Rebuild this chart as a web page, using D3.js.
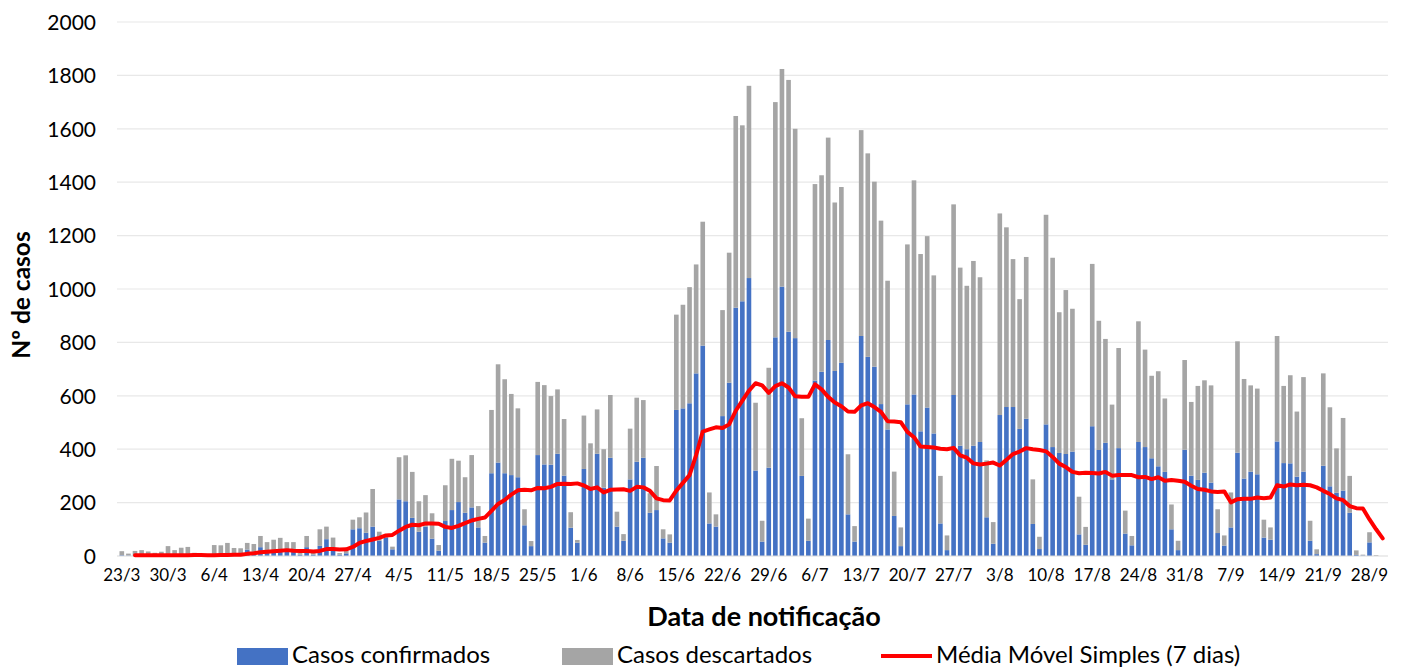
<!DOCTYPE html>
<html>
<head>
<meta charset="utf-8">
<script src="https://cdn.jsdelivr.net/npm/d3@7"></script>
<style>
  html, body { margin: 0; padding: 0; background: #ffffff; }
  svg { display: block; font-family: Lato, "Open Sans", sans-serif; }
</style>
</head>
<body>
<svg id="chart" width="1404" height="669"></svg>
<script>
// ---------------- DATA ----------------
const startDate = "2020-03-23";
const endDate = "2020-09-30";
const tickLabels = ["23/3","30/3","6/4","13/4","20/4","27/4","4/5","11/5","18/5","25/5","1/6","8/6","15/6","22/6","29/6","6/7","13/7","20/7","27/7","3/8","10/8","17/8","24/8","31/8","7/9","14/9","21/9","28/9"];
const yTicks = [0,200,400,600,800,1000,1200,1400,1600,1800,2000];
const seriesNames = ["Casos confirmados", "Casos descartados", "Média Móvel Simples (7 dias)"];

const confirmados = [3,2,3,3,2,2,3,5,3,4,5,3,2,2,5,6,8,6,8,24,15,33,20,20,20,20,15,5,33,5,38,63,20,5,10,100,104,87,110,57,70,25,212,205,143,91,110,65,20,131,172,202,162,182,107,50,310,350,310,303,295,115,37,378,343,342,383,301,106,50,326,247,383,256,368,110,57,287,353,368,162,172,66,50,547,553,572,684,788,122,110,524,649,930,954,1041,320,54,331,819,1009,840,816,300,57,657,690,809,693,724,156,54,824,746,709,569,474,150,37,568,605,467,556,459,122,22,603,413,400,413,427,145,46,528,558,558,476,514,120,26,493,408,386,382,391,81,42,486,397,424,287,404,84,40,427,408,366,336,315,100,22,398,301,285,312,275,86,39,107,387,290,316,306,69,61,429,348,347,297,316,57,7,338,261,237,245,162,4,2,51,0,0];

const descartados = [15,7,16,19,15,10,13,32,19,27,29,9,3,3,36,34,41,24,21,25,30,42,32,41,48,32,37,6,42,10,62,47,49,6,11,36,41,76,141,34,5,10,158,172,172,114,118,95,21,134,192,155,133,196,80,25,237,368,352,304,258,60,19,274,297,257,241,212,58,10,200,175,166,144,235,56,25,190,240,216,73,165,34,31,357,388,435,408,464,116,46,397,487,718,659,720,254,78,374,881,815,943,784,216,83,736,736,758,631,658,225,58,771,762,693,687,557,166,70,599,802,664,642,592,178,55,714,667,612,692,617,213,81,755,673,554,486,606,167,46,785,709,527,614,535,141,67,608,484,389,280,375,86,35,452,365,309,356,275,93,35,336,276,352,346,364,89,38,131,417,373,323,321,67,46,395,289,330,244,354,75,18,346,296,166,272,138,17,3,38,3,0];

// moving average line (starts on the 3rd day)
const mediaMovel = [null,null,3,3,3,3,3,3,3,3,3,4,4,3,3,4,4,5,5,8,10,14,16,18,20,22,20,19,19,17,19,26,26,24,25,34,49,56,62,68,77,79,95,109,117,115,122,122,121,109,105,113,123,133,139,144,169,195,210,230,246,248,246,255,254,259,270,271,270,272,264,251,257,238,248,249,250,244,259,257,244,216,209,208,245,274,303,378,466,474,482,479,493,544,582,619,647,639,611,636,647,631,598,596,596,643,624,596,575,561,541,540,564,572,558,540,505,504,501,465,445,410,408,406,402,400,405,377,368,347,343,346,350,339,360,382,391,404,400,397,392,371,346,333,315,310,312,311,309,315,301,303,303,303,295,296,288,295,282,285,282,278,263,251,248,242,240,242,201,213,214,214,219,216,219,265,260,268,265,267,265,257,244,232,216,209,187,179,178,137,100,66];

// ---------------- CHART ----------------
const colors = { conf: "#4472C4", desc: "#A5A5A5", line: "#FF0000" };
const parse = d3.timeParse("%Y-%m-%d");
const days = d3.timeDay.range(parse(startDate), d3.timeDay.offset(parse(endDate), 1));
const fmt = d3.timeFormat("%-d/%-m");
const cats = days.map(fmt);

const svg = d3.select("#chart");
const margin = { left: 118.5, right: 1386, top: 22, bottom: 556 };

const x = d3.scaleBand().domain(cats).range([margin.left, margin.right]).paddingInner(0.3).paddingOuter(0.15);
const y = d3.scaleLinear().domain([0, 2000]).range([margin.bottom, margin.top]);

// gridlines
svg.append("g").selectAll("line").data(yTicks.filter(d => d > 0)).join("line")
  .attr("x1", 117).attr("x2", 1388)
  .attr("y1", d => y(d)).attr("y2", d => y(d))
  .attr("stroke", "#e8e8e8").attr("stroke-width", 1.2);

// y axis labels
const yAxis = d3.axisLeft(y).tickValues(yTicks).tickSize(0).tickPadding(0).tickFormat(d3.format("d"));
const gy = svg.append("g").attr("transform", "translate(96,0)").call(yAxis);
gy.select(".domain").remove();
gy.selectAll("text").attr("font-size", 21).attr("fill", "#000").attr("font-family", "Lato, sans-serif").attr("dy", "0.35em");

// stacked bars
const rows = cats.map((c, i) => ({ cat: c, conf: confirmados[i], desc: descartados[i] }));
const stack = d3.stack().keys(["conf", "desc"])(rows);
svg.append("g").selectAll("g").data(stack).join("g")
  .attr("fill", d => colors[d.key])
  .selectAll("rect").data(d => d).join("rect")
  .attr("x", d => x(d.data.cat))
  .attr("width", x.bandwidth())
  .attr("y", d => y(d[1]))
  .attr("height", d => Math.max(0, y(d[0]) - y(d[1])));

// baseline
svg.append("line").attr("x1", 117).attr("x2", 1388).attr("y1", y(0)).attr("y2", y(0))
  .attr("stroke", "#d9d9d9").attr("stroke-width", 1.2);

// moving average line
const line = d3.line()
  .defined(d => d.v !== null)
  .x(d => x(d.cat) + x.bandwidth() / 2)
  .y(d => y(d.v));
svg.append("path")
  .datum(cats.map((c, i) => ({ cat: c, v: mediaMovel[i] })))
  .attr("fill", "none").attr("stroke", colors.line).attr("stroke-width", 4)
  .attr("stroke-linejoin", "round").attr("stroke-linecap", "round")
  .attr("d", line);

// x axis labels
const xAxis = d3.axisBottom(x).tickValues(tickLabels).tickSize(0).tickPadding(0);
const gx = svg.append("g").attr("transform", `translate(0,${y(0)})`).call(xAxis);
gx.select(".domain").remove();
gx.selectAll("text").attr("font-size", 17).attr("fill", "#000").attr("font-family", "Lato, sans-serif").attr("dy", "1.45em");

// axis titles
svg.append("text").attr("transform", "translate(30,295) rotate(-90)")
  .attr("text-anchor", "middle").attr("font-size", 24.5).attr("font-weight", "bold").text("Nº de casos");
svg.append("text").attr("x", 764).attr("y", 626)
  .attr("text-anchor", "middle").attr("font-size", 27).attr("font-weight", "bold").text("Data de notificação");

// legend
const leg = svg.append("g").attr("font-size", 24);
const legItems = [
  { name: seriesNames[0], type: "rect", color: colors.conf, x: 237 },
  { name: seriesNames[1], type: "rect", color: colors.desc, x: 562 },
  { name: seriesNames[2], type: "line", color: colors.line, x: 881 }
];
legItems.forEach(it => {
  if (it.type === "rect") {
    leg.append("rect").attr("x", it.x).attr("y", 648).attr("width", 51).attr("height", 17).attr("fill", it.color);
  } else {
    leg.append("line").attr("x1", it.x).attr("x2", it.x + 51).attr("y1", 656).attr("y2", 656)
      .attr("stroke", it.color).attr("stroke-width", 4);
  }
  leg.append("text").attr("x", it.x + 55).attr("y", 663).text(it.name);
});
</script>
</body>
</html>
